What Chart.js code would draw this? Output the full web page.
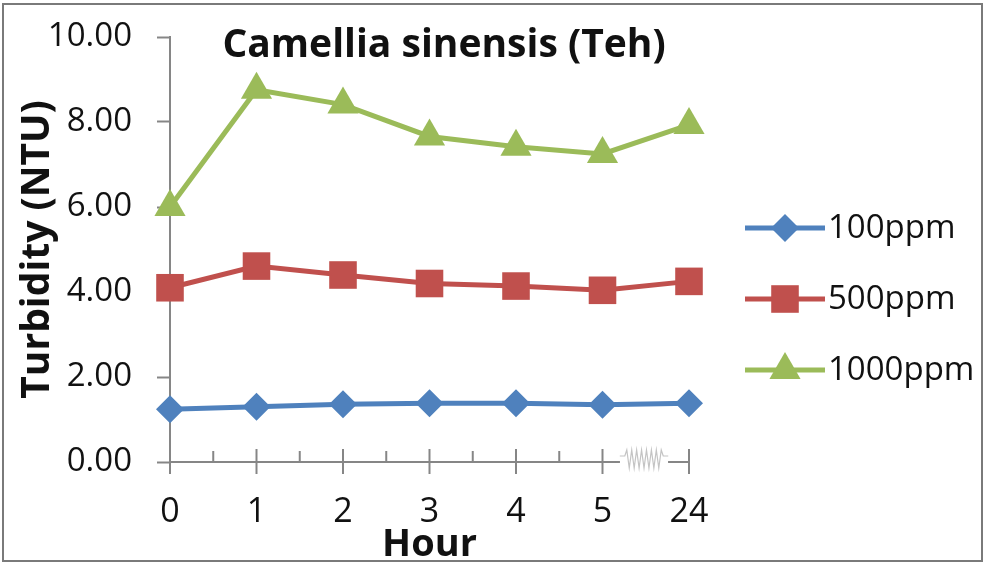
<!DOCTYPE html>
<html>
<head>
<meta charset="utf-8">
<script src="https://cdn.jsdelivr.net/npm/chart.js@4.4.1/dist/chart.umd.min.js"></script>
<style>
  html, body { margin: 0; padding: 0; background: #fff; }
  #wrap { width: 985px; height: 564px; position: relative; }
</style>
</head>
<body>
<div id="wrap"><canvas id="chart" width="985" height="564"></canvas></div>
<script>
// Sampling times (hours) and turbidity readings (NTU) for each dose
const hours = ['0', '1', '2', '3', '4', '5', '24'];
const seriesNames = ['100ppm', '500ppm', '1000ppm'];
const ppm100 = [1.24, 1.30, 1.36, 1.38, 1.38, 1.35, 1.38];
const ppm500 = [4.10, 4.61, 4.40, 4.20, 4.14, 4.04, 4.25];
const ppm1000 = [6.00, 8.76, 8.41, 7.66, 7.42, 7.25, 7.93];
const yMin = 0, yMax = 10, yStep = 2;

const FONT = '"Open Sans", "Liberation Sans", sans-serif';
const AXIS = '#868686';
const INK = '#111111';

const styles = [
  { color: '#4F81BD', pointStyle: 'rectRot', radius: 14 },
  { color: '#C0504D', pointStyle: 'rect', radius: 19.5 },
  { color: '#9BBB59', pointStyle: 'triangle', radius: 18 }
];
const values = [ppm100, ppm500, ppm1000];

const datasets = values.map((v, i) => ({
  label: seriesNames[i],
  data: v,
  borderColor: styles[i].color,
  backgroundColor: styles[i].color,
  borderWidth: 5,
  pointStyle: styles[i].pointStyle,
  pointRadius: styles[i].radius,
  pointBorderWidth: 0,
  pointBackgroundColor: styles[i].color,
  tension: 0,
  clip: false,
  order: 3 - i
}));

// keep the plot box fixed regardless of label overflow
function noScalePadding(s) {
  s.paddingTop = 0; s.paddingBottom = 0; s.paddingLeft = 0; s.paddingRight = 0;
}

// Page frame, title, crossing/minor x ticks, axis break and legend
const decor = {
  id: 'decor',
  beforeDraw(chart) {
    const ctx = chart.ctx;
    ctx.save();
    ctx.fillStyle = '#fff';
    ctx.fillRect(0, 0, chart.width, chart.height);
    ctx.restore();
  },
  afterDraw(chart) {
    const ctx = chart.ctx;
    const xs = chart.scales.x;
    const area = chart.chartArea;
    const y0 = area.bottom;
    ctx.save();

    // x-axis ticks: major cross the axis, minor sit above it
    ctx.strokeStyle = AXIS;
    ctx.lineWidth = 2;
    for (let i = 0; i < hours.length; i++) {
      const px = xs.getPixelForTick(i);
      ctx.beginPath();
      ctx.moveTo(px, y0 - 13);
      ctx.lineTo(px, y0 + 12);
      ctx.stroke();
      if (i < hours.length - 2) {
        const mx = (px + xs.getPixelForTick(i + 1)) / 2;
        ctx.beginPath();
        ctx.moveTo(mx, y0 - 11);
        ctx.lineTo(mx, y0);
        ctx.stroke();
      }
    }

    // axis break between the last two categories
    const a = xs.getPixelForTick(hours.length - 2);
    const b = xs.getPixelForTick(hours.length - 1);
    const l = a + (b - a) * 0.2, r = a + (b - a) * 0.76;
    ctx.fillStyle = '#fff';
    ctx.fillRect(l, y0 - 14, r - l, 26);
    ctx.strokeStyle = '#c4c4c4';
    ctx.lineWidth = 1.2;
    ctx.beginPath();
    ctx.moveTo(l, y0 - 6);
    ctx.lineTo(l + 5, y0 - 6);
    const n = 14, zl = l + 7, zr = r - 7;
    for (let k = 0; k <= n; k++) {
      const zx = zl + (zr - zl) * k / n;
      ctx.lineTo(zx, k % 2 ? y0 + 6 : y0 - 12);
    }
    ctx.lineTo(r - 5, y0 - 6);
    ctx.lineTo(r, y0 - 6);
    ctx.stroke();
    ctx.strokeStyle = AXIS;
    ctx.lineWidth = 2;
    ctx.beginPath();
    ctx.moveTo(l - 4, y0); ctx.lineTo(l, y0);
    ctx.moveTo(r, y0); ctx.lineTo(r + 4, y0);
    ctx.stroke();

    // chart title inside the plot
    ctx.fillStyle = INK;
    ctx.font = 'bold 39px ' + FONT;
    ctx.textAlign = 'center';
    ctx.textBaseline = 'middle';
    ctx.fillText('Camellia sinensis (Teh)', 444, 46);

    // legend
    const lx0 = 745, lx1 = 825, ly = [228, 299, 370];
    ctx.font = '33px ' + FONT;
    ctx.textAlign = 'left';
    chart.data.datasets.forEach((ds, i) => {
      ctx.strokeStyle = ds.borderColor;
      ctx.lineWidth = ds.borderWidth;
      ctx.beginPath();
      ctx.moveTo(lx0, ly[i]);
      ctx.lineTo(lx1, ly[i]);
      ctx.stroke();
      ctx.fillStyle = ds.pointBackgroundColor;
      Chart.helpers.drawPoint(ctx, {
        pointStyle: ds.pointStyle, radius: ds.pointRadius, rotation: 0, borderWidth: 0
      }, (lx0 + lx1) / 2, ly[i]);
      ctx.fillStyle = INK;
      ctx.fillText(ds.label, 828, ly[i] + 1);
    });

    // outer frame
    ctx.strokeStyle = '#7a7a7a';
    ctx.lineWidth = 2;
    ctx.strokeRect(3, 4, 979, 557);
    ctx.restore();
  }
};

new Chart(document.getElementById('chart'), {
  type: 'line',
  data: { labels: hours, datasets },
  plugins: [decor],
  options: {
    responsive: false,
    animation: false,
    events: [],
    layout: { autoPadding: false, padding: { top: 37, right: 296, left: 0, bottom: 0 } },
    plugins: { legend: { display: false }, tooltip: { enabled: false } },
    scales: {
      x: {
        type: 'category',
        offset: false,
        grid: { display: true, drawOnChartArea: false, drawTicks: false },
        border: { color: AXIS, width: 2 },
        ticks: { color: INK, padding: 30, font: { family: FONT, size: 34 } },
        title: {
          display: true, text: 'Hour', color: INK,
          font: { family: FONT, size: 38, weight: 'bold', lineHeight: 1 },
          padding: { top: 0, bottom: 0 }
        },
        afterFit(s) { s.height = 102; noScalePadding(s); }
      },
      y: {
        min: yMin, max: yMax,
        grid: { display: true, drawOnChartArea: false, drawTicks: true, tickLength: 13, tickColor: AXIS, tickWidth: 2 },
        border: { color: AXIS, width: 2 },
        ticks: {
          stepSize: yStep, color: INK, padding: 25,
          font: { family: FONT, size: 33 },
          callback: v => Number(v).toFixed(2)
        },
        title: {
          display: true, text: 'Turbidity (NTU)', color: INK,
          font: { family: FONT, size: 39, weight: 'bold', lineHeight: 1 },
          padding: { top: 18, bottom: 0 }
        },
        afterFit(s) { s.width = 170; noScalePadding(s); }
      }
    }
  }
});
</script>
</body>
</html>
